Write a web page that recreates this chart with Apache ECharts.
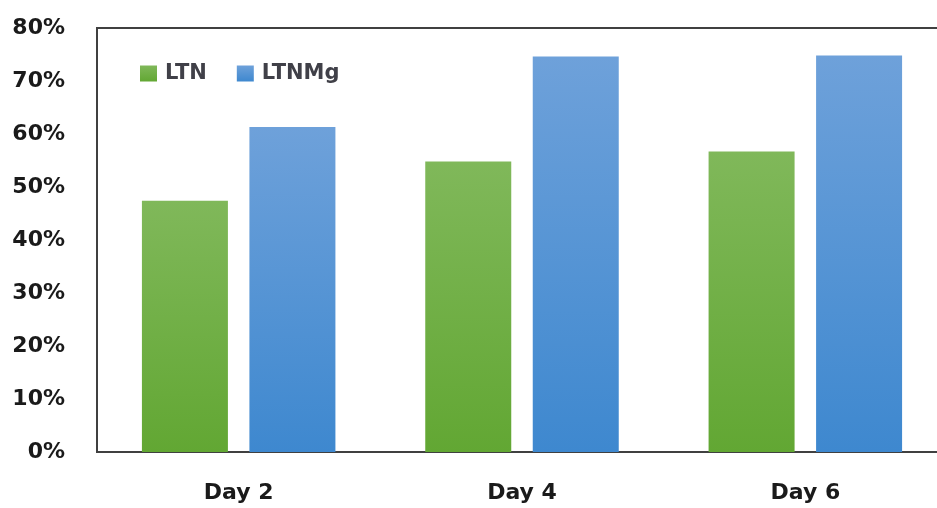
<!DOCTYPE html>
<html>
<head>
<meta charset="utf-8">
<title>LTN vs LTNMg</title>
<script src="https://cdn.jsdelivr.net/npm/echarts@6/dist/echarts.min.js"></script>
<style>
  html, body { margin: 0; padding: 0; background: #fff; overflow: hidden; }
  /* the plot frame runs past the right edge of the window */
  #chart { width: 947px; height: 508px; }
</style>
</head>
<body>
<div id="chart"></div>
<script>
// Categories and series values (percent)
const days = ['Day 2', 'Day 4', 'Day 6'];
const ltn = [47.4, 54.8, 56.7];
const ltnMg = [61.3, 74.6, 74.8];
const yTicks = { min: 0, max: 80, step: 10 };

const font = 'DejaVu Sans';

function grad(top, bottom) {
  return new echarts.graphic.LinearGradient(0, 0, 0, 1, [
    { offset: 0, color: top },
    { offset: 1, color: bottom }
  ]);
}

const chart = echarts.init(document.getElementById('chart'), null, { renderer: 'canvas' });

chart.setOption({
  animation: false,
  backgroundColor: '#ffffff',
  grid: {
    left: 97, top: 28, bottom: 56, right: 0,
    show: true, borderColor: '#404040', borderWidth: 2,
    backgroundColor: 'transparent',
    containLabel: false
  },
  legend: {
    left: 135, top: 58,
    itemWidth: 17, itemHeight: 16, itemGap: 30,
    icon: 'rect',
    textStyle: {
      fontFamily: font, fontWeight: 'bold', fontSize: 21,
      color: '#404048', padding: [0, 0, 0, 3]
    },
    data: ['LTN', 'LTNMg']
  },
  xAxis: {
    type: 'category',
    data: days,
    axisLine: { show: true, lineStyle: { color: '#404040', width: 2 } },
    axisTick: { show: false },
    axisLabel: {
      margin: 30,
      fontFamily: font, fontWeight: 'bold', fontSize: 22, color: '#1a1a1a'
    },
    splitLine: { show: false }
  },
  yAxis: {
    type: 'value',
    min: yTicks.min, max: yTicks.max, interval: yTicks.step,
    axisLine: { show: true, lineStyle: { color: '#404040', width: 2 } },
    axisTick: { show: false },
    splitLine: { show: false },
    axisLabel: {
      margin: 32,
      fontFamily: font, fontWeight: 'bold', fontSize: 22, color: '#1a1a1a',
      formatter: v => v + '%'
    }
  },
  series: [
    {
      name: 'LTN', type: 'bar', data: ltn,
      barWidth: 86, barGap: '25%',
      itemStyle: { color: grad('#80b85a', '#62a733') }
    },
    {
      name: 'LTNMg', type: 'bar', data: ltnMg,
      barWidth: 86, barGap: '25%',
      itemStyle: { color: grad('#6ea1da', '#3e88cf') }
    }
  ]
});
</script>
</body>
</html>
